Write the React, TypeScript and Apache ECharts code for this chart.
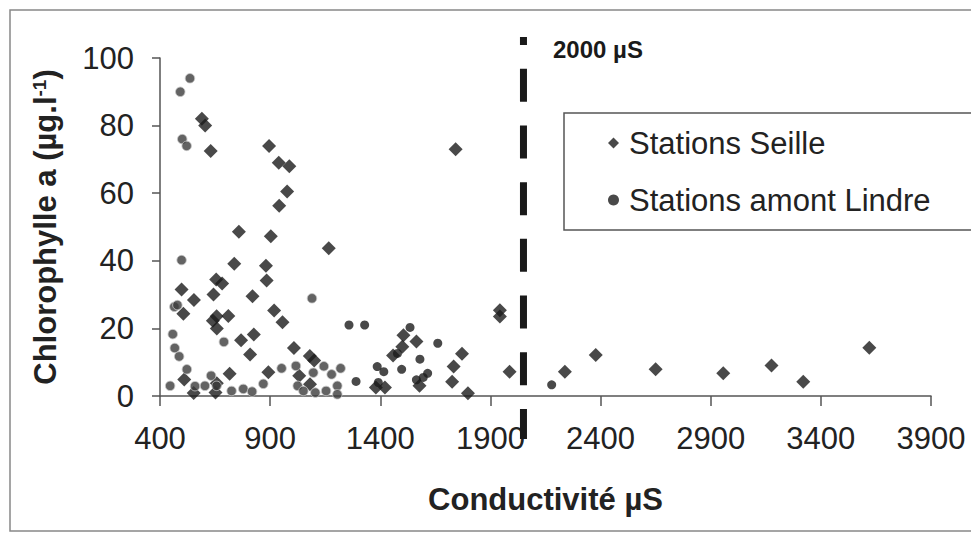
import React, { useEffect, useRef } from "react";
import * as echarts from "echarts";

// Stations Seille (diamonds): [conductivité µS, chlorophylle a µg/l]
const seillePoints: [number, number][] = [
  [590, 82], [605, 80], [630, 72.5], [1742, 73], [895, 74], [939, 69], [987, 68],
  [977, 60.5], [941, 56.3], [758, 48.6], [903, 47.3], [1166, 43.7], [737, 39.1],
  [881, 38.5], [884, 34.2], [655, 34.5], [682, 33.3], [643, 30], [498, 31.5],
  [554, 28.4], [820, 29.5], [918, 25.3], [506, 24.3], [657, 23.6], [710, 23.7],
  [640, 22.3], [658, 20], [956, 21.8], [768, 16.5], [826, 18.2], [809, 12.3],
  [1008, 14.2], [1080, 11.8], [1100, 10.5], [1943, 25.4], [1943, 23.5], [1505, 18],
  [1564, 16.1], [1500, 14.6], [1458, 12], [1771, 12.5], [1733, 8.7], [1987, 7.2],
  [1726, 4.2], [1380, 2.5], [1421, 2.5], [1798, 0.8], [1578, 3], [510, 4.9],
  [716, 6.6], [892, 7], [1032, 6], [1081, 3.5], [553, 0.9], [652, 1], [658, 3.8],
  [2238, 7.2], [2378, 12.1], [2650, 7.9], [2957, 6.7], [3176, 9], [3320, 4.2], [3620, 14.3],
];

// Stations amont Lindre (circles), dark ones
const lindreDarkPoints: [number, number][] = [
  [1258, 21], [1329, 21], [1290, 4.3], [1391, 4], [1386, 8.7], [1416, 7.2],
  [1478, 12.6], [1535, 20.3], [1580, 10.9], [1497, 7.9], [1661, 15.6], [1615, 6.7],
  [1564, 4.8], [1595, 5.5], [2178, 3.3],
];

// Stations amont Lindre (circles), grey ones
const lindreGreyPoints: [number, number][] = [
  [536, 94], [492, 90], [501, 76], [521, 74], [498, 40.2], [465, 26.4], [479, 26.9],
  [458, 18.3], [467, 14.2], [487, 11.7], [690, 16], [1090, 28.9], [522, 7.9], [446, 3],
  [559, 2.9], [604, 3], [632, 6], [657, 3], [725, 1.5], [778, 2.1], [818, 1.3],
  [869, 3.6], [952, 8.2], [1017, 8.9], [1025, 3], [1051, 1.5], [1096, 6.9], [1105, 1],
  [1144, 8.8], [1154, 1.5], [1179, 6.4], [1205, 3], [1205, 0.5], [1220, 8.2],
];

// 2000 µS threshold marker (drawn as a dashed vertical line)
const thresholdLine: [number, number][] = [[2050, 106.2], [2050, -12.7]];

const FONT = '"Liberation Sans", Arial, sans-serif';

export default function App() {
  const ref = useRef<HTMLDivElement>(null);
  useEffect(() => {
    if (!ref.current) return;
    const chart = echarts.init(ref.current, undefined, { renderer: "svg" });
    chart.setOption({
      animation: false,
      backgroundColor: "#ffffff",
      textStyle: { fontFamily: FONT },
      grid: { left: 160, right: 40, top: 58, bottom: 138, containLabel: false },
      xAxis: {
        type: "value",
        min: 400,
        max: 3900,
        interval: 500,
        axisLine: { show: true, lineStyle: { color: "#555", width: 1.5 } },
        axisTick: { show: true, length: 10, lineStyle: { color: "#555", width: 1.5 } },
        axisLabel: {
          fontSize: 31,
          color: "#222",
          margin: 27,
          fontFamily: FONT,
          formatter: (v: number) => String(v),
        },
        splitLine: { show: false },
        name: "Conductivité µS",
        nameLocation: "middle",
        nameGap: 88,
        nameTextStyle: { fontSize: 31, fontWeight: "bold", color: "#222", fontFamily: FONT },
      },
      yAxis: {
        type: "value",
        min: 0,
        max: 100,
        interval: 20,
        axisLine: { show: true, lineStyle: { color: "#555", width: 1.5 } },
        axisTick: { show: true, length: 8, lineStyle: { color: "#555", width: 1.5 } },
        axisLabel: {
          fontSize: 31,
          color: "#222",
          margin: 26,
          fontFamily: FONT,
          formatter: (v: number) => String(v),
        },
        splitLine: { show: false },
        name: "{a|Chlorophylle a (µg.l}{s|-1}{a|)}",
        nameLocation: "middle",
        nameRotate: 90,
        nameGap: 99,
        nameTextStyle: {
          color: "#222",
          rich: {
            a: { fontSize: 31, fontWeight: "bold", color: "#222", fontFamily: FONT },
            s: { fontSize: 19, fontWeight: "bold", color: "#222", fontFamily: FONT, verticalAlign: "top" },
          },
        },
      },
      legend: {
        orient: "vertical",
        left: 564,
        top: 113,
        data: [
          { name: "Stations Seille", icon: "diamond" },
          { name: "Stations amont Lindre", icon: "circle" },
        ],
        itemWidth: 11,
        itemHeight: 11,
        itemGap: 25,
        padding: [14, 100, 14, 44],
        borderColor: "#555",
        borderWidth: 1.5,
        backgroundColor: "#fff",
        textStyle: { fontSize: 31, color: "#222", lineHeight: 32, fontFamily: FONT, padding: [0, 0, 0, 5] },
      },
      graphic: [
        {
          type: "rect",
          silent: true,
          z: -10,
          shape: { x: 10, y: 10, width: 990, height: 521 },
          style: { fill: "none", stroke: "#888", lineWidth: 1.5 },
        },
        {
          type: "text",
          x: 553,
          y: 49,
          style: {
            text: "2000 µS",
            fontSize: 24,
            fontWeight: "bold",
            fontFamily: FONT,
            fill: "#1a1a1a",
            verticalAlign: "middle",
          },
        },
      ],
      series: [
        {
          name: "Stations Seille",
          type: "scatter",
          symbol: "diamond",
          symbolSize: 14,
          itemStyle: { color: "#1c1c1c" },
          data: seillePoints,
        },
        {
          name: "Stations amont Lindre",
          type: "scatter",
          symbol: "circle",
          symbolSize: 9,
          itemStyle: { color: "#1c1c1c" },
          data: lindreDarkPoints,
        },
        {
          name: "Stations amont Lindre",
          type: "scatter",
          symbol: "circle",
          symbolSize: 9.5,
          itemStyle: { color: "#3c3c3c", borderColor: "#c8c8c8", borderWidth: 1 },
          data: lindreGreyPoints,
        },
        {
          name: "2000 µS",
          type: "line",
          data: thresholdLine,
          symbol: "none",
          clip: false,
          silent: true,
          z: 3,
          lineStyle: { color: "#1a1a1a", width: 7, type: [33, 23.7], dashOffset: 25, cap: "butt" },
        },
      ],
    });
    return () => chart.dispose();
  }, []);
  return (
    <div
      ref={ref}
      style={{ position: "absolute", left: 0, top: 0, width: 971, height: 534 }}
    />
  );
}
